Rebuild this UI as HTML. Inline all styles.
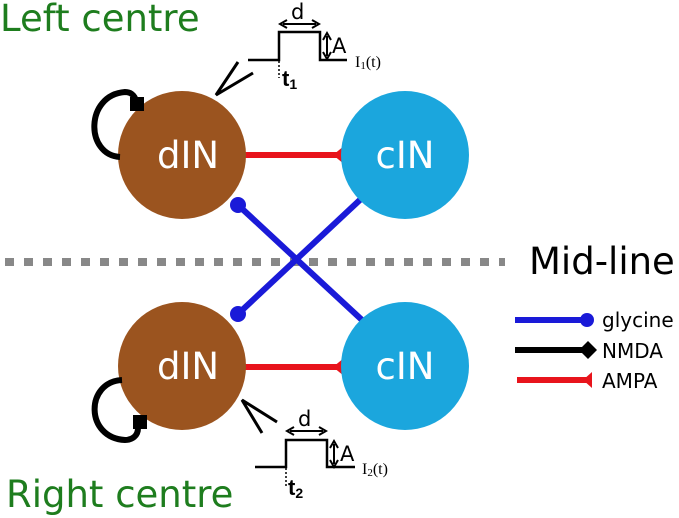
<!DOCTYPE html>
<html><head><style>body{margin:0;background:#fff}svg{display:block}</style></head><body>
<svg width="679" height="518" viewBox="0 0 679 518" xmlns="http://www.w3.org/2000/svg" font-family="'DejaVu Sans','Liberation Sans',sans-serif">
<text x="0" y="31" font-size="37" fill="#1e7d1e">Left centre</text>
<text x="6" y="507" font-size="37" fill="#1e7d1e">Right centre</text>
<line x1="5" y1="262" x2="505" y2="262" stroke="#888" stroke-width="8" stroke-dasharray="9,10"/>
<text x="529" y="274" font-size="37" fill="#000">Mid-line</text>
<!-- red AMPA -->
<line x1="240" y1="155" x2="340" y2="155" stroke="#e8141c" stroke-width="6"/>
<polygon points="333,155 344,146 344,164" fill="#e8141c"/>
<line x1="240" y1="367" x2="340" y2="367" stroke="#e8141c" stroke-width="6"/>
<polygon points="333,367 344,358 344,376" fill="#e8141c"/>
<!-- blue -->
<line x1="238" y1="205" x2="362" y2="320" stroke="#1a1ad8" stroke-width="6"/>
<line x1="238" y1="314" x2="362" y2="198" stroke="#1a1ad8" stroke-width="6"/>
<!-- circles -->
<circle cx="182" cy="155" r="64" fill="#9b541f"/>
<circle cx="405" cy="155" r="64" fill="#1ba6dd"/>
<circle cx="182" cy="366" r="64" fill="#9b541f"/>
<circle cx="405" cy="366" r="64" fill="#1ba6dd"/>
<circle cx="238" cy="205" r="8" fill="#1a1ad8"/>
<circle cx="238" cy="314" r="8" fill="#1a1ad8"/>
<g font-size="37" fill="#fff" text-anchor="middle">
<text x="188" y="168">dIN</text><text x="405" y="168">cIN</text>
<text x="188" y="379">dIN</text><text x="405" y="379">cIN</text></g>
<!-- self loops -->
<path d="M120,157 C85,155 85,95 125,92 C132,92 136,97 136,103" fill="none" stroke="#000" stroke-width="6"/>
<rect x="130" y="97" width="14" height="14" fill="#000"/>
<path d="M122,380 C85,382 85,438 125,440 C132,440 138,436 138,428" fill="none" stroke="#000" stroke-width="6"/>
<rect x="133" y="415" width="14" height="14" fill="#000"/>
<!-- input forks -->
<path d="M238,62 L216,95 L253,73" fill="none" stroke="#000" stroke-width="3"/>
<path d="M262,433 L242,400 L277,422" fill="none" stroke="#000" stroke-width="3"/>
<!-- pulses -->
<g stroke="#000" fill="none">
<path d="M248,60 H279 V32 H320 V60 H347" stroke-width="2.5"/>
<line x1="279" y1="61" x2="279" y2="78" stroke-width="1.5" stroke-dasharray="2,2"/>
<line x1="283" y1="24" x2="316" y2="24" stroke-width="2"/>
<line x1="327" y1="36" x2="327" y2="56" stroke-width="2"/>
<path d="M287,20 L280,24 L287,28 M312,20 L319,24 L312,28 M323,40 L327,33 L331,40 M323,52 L327,59 L331,52" stroke-width="2"/>
<path d="M255,467 H286 V440 H327 V467 H355" stroke-width="2.5"/>
<line x1="286" y1="468" x2="286" y2="488" stroke-width="1.5" stroke-dasharray="2,2"/>
<line x1="290" y1="431" x2="323" y2="431" stroke-width="2"/>
<line x1="334" y1="444" x2="334" y2="464" stroke-width="2"/>
<path d="M294,427 L287,431 L294,435 M319,427 L326,431 L319,435 M330,448 L334,441 L338,448 M330,460 L334,467 L338,460" stroke-width="2"/>
</g>
<g fill="#000" font-size="21">
<text x="291" y="19">d</text><text x="332" y="53">A</text>
<text x="282" y="86" font-size="22" font-family="'Liberation Sans',sans-serif" font-weight="bold">t<tspan font-size="14" dy="3">1</tspan></text>
<text x="355" y="67" font-size="16" font-family="'Liberation Serif',serif">I<tspan font-size="11" dy="2">1</tspan><tspan dy="-2">(t)</tspan></text>
<text x="298" y="426">d</text><text x="340" y="461">A</text>
<text x="288" y="495" font-size="22" font-family="'Liberation Sans',sans-serif" font-weight="bold">t<tspan font-size="14" dy="3">2</tspan></text>
<text x="362" y="474" font-size="16" font-family="'Liberation Serif',serif">I<tspan font-size="11" dy="2">2</tspan><tspan dy="-2">(t)</tspan></text>
</g>
<!-- legend -->
<line x1="515" y1="320" x2="585" y2="320" stroke="#1a1ad8" stroke-width="6"/>
<circle cx="587" cy="320" r="7" fill="#1a1ad8"/>
<line x1="515" y1="350" x2="585" y2="350" stroke="#000" stroke-width="6"/>
<polygon points="588,341 597,350 588,359 579,350" fill="#000"/>
<line x1="517" y1="380" x2="590" y2="380" stroke="#e8141c" stroke-width="6"/>
<polygon points="583,380 592,372 592,388" fill="#e8141c"/>
<g font-size="20" fill="#000">
<text x="602" y="327">glycine</text><text x="602" y="358">NMDA</text><text x="602" y="388">AMPA</text></g>
</svg>
</body></html>
